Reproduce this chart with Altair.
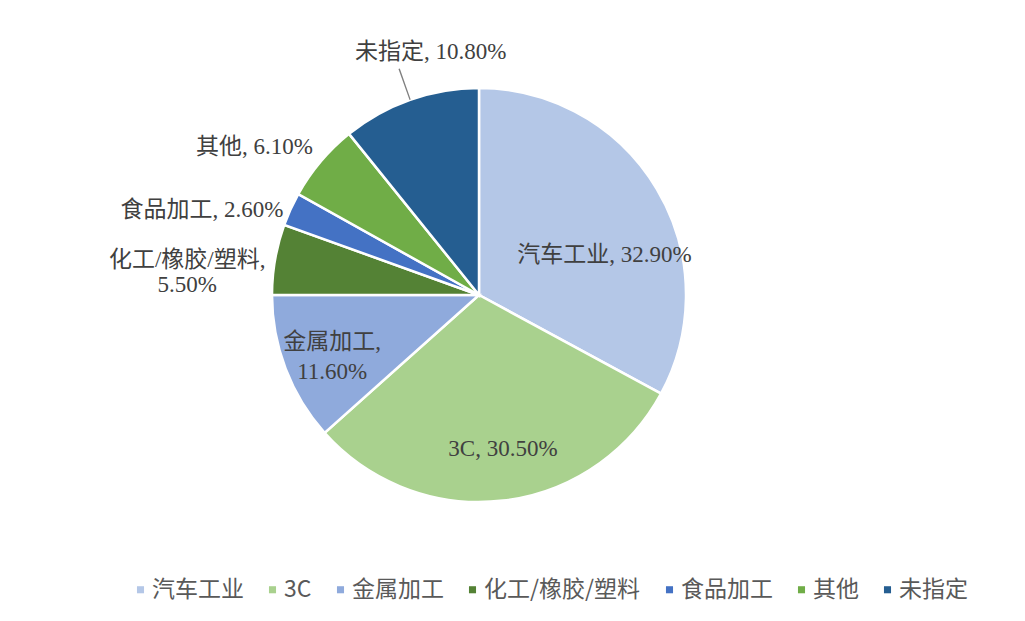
import math
import altair as alt
import pandas as pd

# ---- data ----
categories = ["汽车工业", "3C", "金属加工", "化工/橡胶/塑料", "食品加工", "其他", "未指定"]
shares = [32.90, 30.50, 11.60, 5.50, 2.60, 6.10, 10.80]
colors = ["#B4C7E7", "#A9D18E", "#8FAADC", "#548235", "#4472C4", "#70AD47", "#255E91"]
wrapped = ["金属加工", "化工/橡胶/塑料"]

labels = [
    (f"{c},\n{v:.2f}%" if c in wrapped else f"{c}, {v:.2f}%")
    for c, v in zip(categories, shares)
]

df = pd.DataFrame({
    "idx": list(range(len(categories))),
    "category": categories,
    "share": shares,
    "label": labels,
})

base = (
    alt.Chart(df)
    .transform_window(cum="sum(share)", sort=[{"field": "idx"}], frame=[None, 0])
    .transform_joinaggregate(total="sum(share)")
    .transform_calculate(
        t0="2*PI*(datum.cum - datum.share)/datum.total",
        t1="2*PI*datum.cum/datum.total",
    )
    .transform_calculate(tm="(datum.t0 + datum.t1)/2")
)

pie = base.mark_arc(radius=207, stroke="white", strokeWidth=2.5).encode(
    theta=alt.Theta("t0:Q", scale=None),
    theta2="t1:Q",
    color=alt.Color(
        "category:N",
        scale=alt.Scale(domain=categories, range=colors),
        sort=categories,
        legend=alt.Legend(
            title=None,
            orient="none",
            direction="horizontal",
            legendX=121,
            legendY=570,
            symbolType="square",
            symbolSize=50,
            symbolStrokeWidth=0,
            labelFont="Noto Sans CJK SC",
            labelFontSize=23,
            labelColor="#595959",
            labelOffset=0,
            columnPadding=17,
            labelLimit=300,
        ),
    ),
)

# leader line for 未指定
leader = (
    base.transform_filter(alt.datum.category == "未指定")
    .transform_calculate(l0="datum.tm - 0.003", l1="datum.tm + 0.003")
    .mark_arc(radius=240, radius2=207, color="#808080")
    .encode(theta=alt.Theta("l0:Q", scale=None), theta2="l1:Q")
)

# label placement (radius, dx, dy, align, lineHeight)
label_style = {
    "汽车工业": (131, 13, 27, "center", 26),
    "3C": (155, 6, 0, "center", 26),
    "金属加工": (155, -2, -8, "center", 30),
    "化工/橡胶/塑料": (280, -16, 13, "center", 25),
    "食品加工": (215, 0, 4, "right", 26),
    "其他": (225, 6, -3, "right", 26),
    "未指定": (250, 35, -7, "center", 26),
}

text_layers = []
for cat in categories:
    r, dx, dy, align, lh = label_style[cat]
    text_layers.append(
        base.transform_filter(alt.datum.category == cat)
        .mark_text(
            radius=r,
            dx=dx,
            dy=dy,
            align=align,
            baseline="middle",
            lineBreak="\n",
            lineHeight=lh,
            font="Liberation Serif, 'Noto Sans CJK SC'",
            fontSize=23,
            color="#404040",
        )
        .encode(theta=alt.Theta("tm:Q", scale=None), text="label:N")
    )

chart = (
    alt.layer(pie, leader, *text_layers)
    .properties(
        width=942,
        height=574,
        autosize=alt.AutoSizeParams(type="none"),
        padding={"left": 0, "top": 0, "right": 67, "bottom": 31},
        background="white",
    )
    .configure_view(stroke=None)
)

chart.save("out.html", embed_options={"renderer": "svg", "actions": False})
